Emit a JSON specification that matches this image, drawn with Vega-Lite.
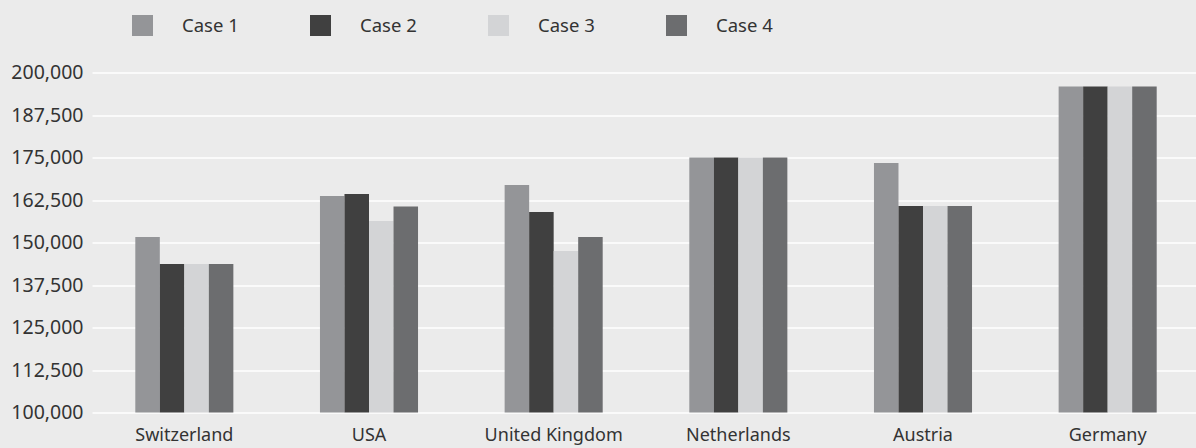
{
  "$schema": "https://vega.github.io/schema/vega-lite/v6.json",
  "autosize": {"type": "none"},
  "width": 1108,
  "height": 340,
  "padding": {"left": 92, "top": 72.5, "right": 0, "bottom": 35.5},
  "background": "#ebebeb",
  "config": {
    "view": {"stroke": null},
    "font": "Noto Sans",
    "axis": {"labelFont": "Noto Sans", "labelColor": "#333333"},
    "legend": {"labelFont": "Noto Sans", "labelColor": "#333333"}
  },
  "data": {
    "values": [
      {"country": "Switzerland", "case": "Case 1", "value": 151600},
      {"country": "Switzerland", "case": "Case 2", "value": 143700},
      {"country": "Switzerland", "case": "Case 3", "value": 143700},
      {"country": "Switzerland", "case": "Case 4", "value": 143700},
      {"country": "USA", "case": "Case 1", "value": 163700},
      {"country": "USA", "case": "Case 2", "value": 164300},
      {"country": "USA", "case": "Case 3", "value": 156300},
      {"country": "USA", "case": "Case 4", "value": 160600},
      {"country": "United Kingdom", "case": "Case 1", "value": 166900},
      {"country": "United Kingdom", "case": "Case 2", "value": 159000},
      {"country": "United Kingdom", "case": "Case 3", "value": 147500},
      {"country": "United Kingdom", "case": "Case 4", "value": 151600},
      {"country": "Netherlands", "case": "Case 1", "value": 175000},
      {"country": "Netherlands", "case": "Case 2", "value": 175000},
      {"country": "Netherlands", "case": "Case 3", "value": 175000},
      {"country": "Netherlands", "case": "Case 4", "value": 175000},
      {"country": "Austria", "case": "Case 1", "value": 173400},
      {"country": "Austria", "case": "Case 2", "value": 160700},
      {"country": "Austria", "case": "Case 3", "value": 160700},
      {"country": "Austria", "case": "Case 4", "value": 160700},
      {"country": "Germany", "case": "Case 1", "value": 195850},
      {"country": "Germany", "case": "Case 2", "value": 195850},
      {"country": "Germany", "case": "Case 3", "value": 195850},
      {"country": "Germany", "case": "Case 4", "value": 195850}
    ]
  },
  "mark": {"type": "bar", "clip": true},
  "encoding": {
    "x": {
      "field": "country",
      "type": "nominal",
      "sort": ["Switzerland", "USA", "United Kingdom", "Netherlands", "Austria", "Germany"],
      "scale": {"paddingInner": 0.469, "paddingOuter": 0.2345},
      "axis": {
        "title": null,
        "labelAngle": 0,
        "ticks": false,
        "domain": false,
        "grid": false,
        "labelPadding": 14,
        "labelFontSize": 18
      }
    },
    "xOffset": {
      "field": "case",
      "type": "nominal",
      "scale": {"paddingInner": 0, "paddingOuter": 0}
    },
    "y": {
      "field": "value",
      "type": "quantitative",
      "scale": {"domain": [100000, 200000], "nice": false, "zero": false},
      "axis": {
        "title": null,
        "values": [100000, 112500, 125000, 137500, 150000, 162500, 175000, 187500, 200000],
        "format": ",d",
        "ticks": false,
        "domain": false,
        "labelPadding": 9,
        "grid": true,
        "gridColor": "#ffffff",
        "gridWidth": 1.5,
        "gridOpacity": 1,
        "labelFontSize": 19.5
      }
    },
    "color": {
      "field": "case",
      "type": "nominal",
      "scale": {
        "domain": ["Case 1", "Case 2", "Case 3", "Case 4"],
        "range": ["#949598", "#404040", "#d3d4d6", "#6c6d6f"]
      },
      "legend": {
        "title": null,
        "orient": "none",
        "direction": "horizontal",
        "legendX": 40,
        "legendY": -57.5,
        "symbolType": "square",
        "symbolSize": 441,
        "symbolStrokeWidth": 0,
        "symbolOpacity": 1,
        "labelOffset": 29,
        "columnPadding": 71,
        "labelFontSize": 18.5
      }
    }
  }
}
